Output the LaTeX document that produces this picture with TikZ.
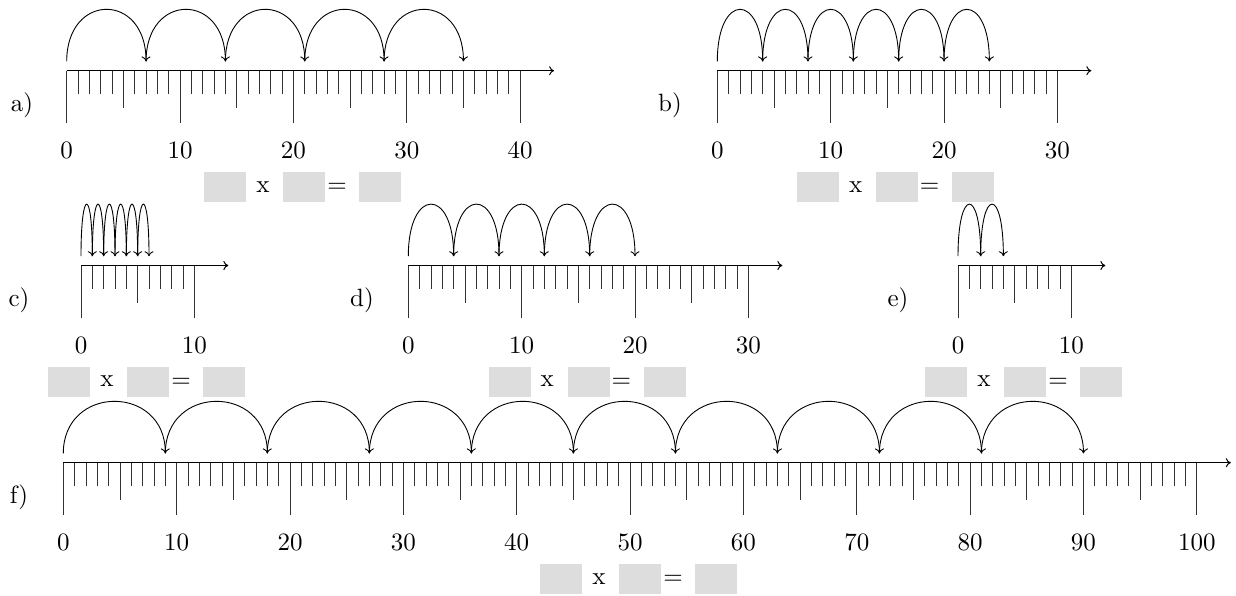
\documentclass[tikz,border=0pt]{standalone}
\usepackage{fontspec}
\setmainfont{lmroman10-regular.otf}
\usetikzlibrary{arrows.meta}
\definecolor{boxgray}{RGB}{221,221,221}
\def\uu{11.335}
\tikzset{
  axisline/.style={line width=1pt,-{Computer Modern Rightarrow[length=5pt,width=9pt]}},
  tickline/.style={line width=0.9pt,black!80},
  jumparc/.style={line width=0.9pt,-{Computer Modern Rightarrow[length=5pt,width=9pt]}},
  txt/.style={inner sep=0pt,font=\fontsize{25}{30}\selectfont},
  blank/.style={fill=boxgray,minimum width=42pt,minimum height=30pt,inner sep=0pt,anchor=west},
}
% #1 name, #2 origin x, #3 axis y, #4 max, #5 jump, #6 count, #7 label, #8 label x, #9 box left
\newcommand\NumLine[9]{%
\begin{scope}[shift={(#2,#3)}]
  \coordinate (#1-o) at (0,0);
  \coordinate (#1-end) at ({(#4+3)*\uu},0);
  \foreach \i in {0,...,#4}{
    \pgfmathsetmacro\len{mod(\i,10)==0 ? 52 : (mod(\i,5)==0 ? 37 : 23)}
    \draw[tickline] ({\i*\uu},0) -- ++(0,\len);
  }
  \draw[axisline] (#1-o) -- (#1-end);
  \foreach \i in {0,10,...,#4}{
    \node[txt,anchor=base] (#1-l\i) at ({\i*\uu},87.5) {\i};
  }
  \foreach \k in {0,...,#6}{
    \coordinate (#1-j\k) at ({\k*#5*\uu},-9.3);
  }
  \foreach \k in {1,...,#6}{
    \pgfmathtruncatemacro\prev{\k-1}
    \draw[jumparc] (#1-j\prev) .. controls +(0,-69.3) and +(0,-69.3) .. (#1-j\k);
  }
  \node[txt] (#1-name) at ({#8-#2},35) {#7};
  \pgfmathsetmacro\bl{#9-#2}
  \node[blank] (#1-b1) at (\bl,116) {};
  \node[txt,anchor=base] (#1-x) at ({\bl+59},121.4) {x};
  \node[blank] (#1-b2) at ({\bl+79},116) {};
  \node[txt,anchor=base] (#1-eq) at ({\bl+133},122.2) {=};
  \node[blank] (#1-b3) at ({\bl+155},116) {};
\end{scope}}
\begin{document}
\begin{tikzpicture}[x=1pt,y=-1pt]
\useasboundingbox (0,0) rectangle (1236,595);
\NumLine{a}{66.7}{70.7}{40}{7}{5}{a)}{22}{204}
\NumLine{b}{717.3}{70.7}{30}{4}{6}{b)}{670}{796.7}
\NumLine{c}{81}{265.5}{10}{1}{6}{c)}{19}{48}
\NumLine{d}{408.3}{265.5}{30}{4}{5}{d)}{362}{488.3}
\NumLine{e}{958}{265.5}{10}{2}{2}{e)}{898}{925}
\NumLine{f}{63.3}{462.7}{100}{9}{10}{f)}{19}{540}
\end{tikzpicture}
\end{document}
